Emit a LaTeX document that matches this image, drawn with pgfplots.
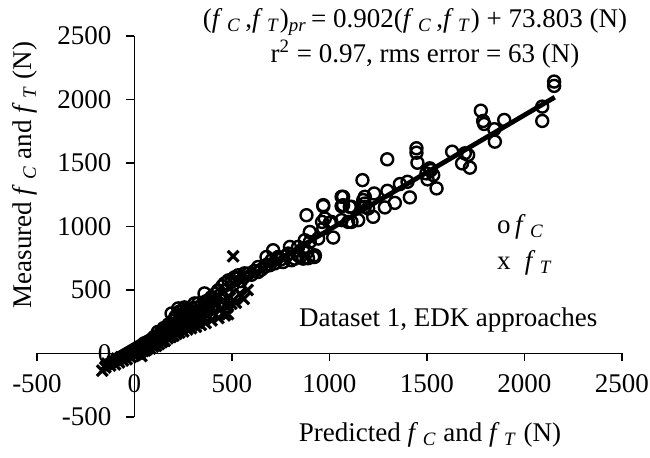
\documentclass[border=0pt]{standalone}
\usepackage{pgfplots}
\pgfplotsset{compat=1.18}
\usepackage{fontspec}
\setmainfont{Liberation Serif}
\newcommand\fC{\textit{f}\,\textsubscript{\textit{C}}}
\newcommand\fT{\textit{f}\,\textsubscript{\textit{T}}}
\begin{document}
\begin{tikzpicture}[font=\fontsize{13.5}{16}\selectfont]
\useasboundingbox (-18.5pt,-20.5pt) rectangle (306.5pt,208.5pt);
\begin{axis}[
  at={(0,0)}, anchor=south west, scale only axis,
  width=292.5pt, height=190.5pt,
  xmin=-500, xmax=2500, ymin=-500, ymax=2500,
  axis lines=middle,
  axis line style={line width=0.8pt,-},
  xtick={-500,0,500,1000,1500,2000,2500},
  ytick={-500,0,500,1000,1500,2000,2500},
  xticklabels={-500,0,500,1000,1500,2000,2500},
  yticklabels={-500,0,500,1000,1500,2000,2500},
  tick align=outside, major tick length=4pt,
  tick style={line width=0.8pt,black},
  hide obscured x ticks=false, hide obscured y ticks=false,
  xticklabel style={yshift=-3pt},
  yticklabel style={xshift=-4pt},
  clip=false,
]
% fitted line
\addplot[black, line width=2.4pt] coordinates {(-170,-79.5) (2155,2017.6)};
% f_C (circles)
\addplot[only marks, mark=o, mark size=3pt, line width=1.2pt, black] coordinates {
(0,20)(30,40)(50,80)(70,90)(100,130)(120,170)(140,150)(150,200)(160,185)(175,230)
(185,215)(190,315)(200,260)(210,290)(215,240)(224,355)(230,330)(240,300)(250,345)
(256,363)(260,320)(270,350)(280,300)(292,355)(300,330)(308,394)(315,360)(326,394)
(335,340)(345,380)(359,473)(365,410)(378,418)(385,390)(395,444)(405,430)(415,470)
(429,497)(440,460)(450,530)(462,552)(470,500)(482,576)(497,576)(505,540)(513,600)
(525,590)(532,616)(545,570)(560,600)(564,631)(583,629)(600,620)(615,650)(634,642)
(650,660)(667,681)(680,700)(703,734)(720,710)(737,760)(750,740)(780,770)(805,734)
(839,773)(850,760)(890,750)(923,760)
(634,681)(694,695)(711,813)(677,760)(728,747)(822,747)(916,760)(762,720)
(797,839)(788,787)(839,839)(865,826)(899,878)(942,905)(968,984)(1019,913)(899,957)
(925,773)(887,800)(865,747)(873,892)
(1002,1029)(962,1036)(1113,1036)(1147,1050)(976,1063)(1010,1036)(1062,1050)(1096,1036)
(968,1160)(882,1089)(968,1168)(1062,1160)(1104,1155)(1070,1234)(1062,1234)(1070,1168)
(1113,1155)(1169,1365)(1173,1208)(1181,1155)(1181,1234)(1181,1181)(1198,1142)
(1224,1076)(1229,1260)(1284,1150)(1297,1281)(1335,1186)(1361,1334)(1400,1352)(1412,1229)
(1296,1529)(1446,1616)(1446,1581)(1451,1502)(1514,1458)(1503,1371)(1532,1405)
(1520,1444)(1497,1418)(1549,1300)(1629,1589)(1694,1576)(1711,1563)(1680,1497)(1720,1463)
(1776,1912)(1788,1831)(1793,1807)(1896,1839)(1845,1766)(1848,1668)
(2091,1944)(2091,1831)(2152,2141)(2152,2107)
};
% f_T (x marks)
\addplot[only marks, mark=x, mark size=3.8pt, line width=1.6pt, black] coordinates {
(-165,-135)(-150,-110)(-140,-80)(-125,-95)(-110,-60)(-100,-85)(-90,-40)(-80,-70)
(-70,-30)(-60,-55)(-50,-20)(-40,-45)(-30,-10)(-20,-30)(-10,5)(0,-15)(5,20)(10,-5)
(15,30)(20,0)(25,40)(30,10)(35,-20)(40,45)(45,20)(50,60)(55,25)(60,75)(65,35)
(70,50)(75,90)(80,40)(85,70)(90,105)(95,55)(100,80)(105,120)(110,60)(115,95)
(120,140)(125,75)(130,110)(135,160)(140,90)(145,130)(150,170)(155,100)(160,145)
(165,195)(170,120)(175,160)(180,210)(185,130)(190,175)(195,230)(200,140)(205,190)
(210,250)(215,155)(220,200)(225,270)(230,165)(240,215)(245,280)(250,175)(260,230)
(265,300)(270,190)(280,245)(285,320)(290,200)(300,255)(310,330)(315,210)(325,270)
(335,345)(340,225)(350,285)(360,360)(365,240)(375,300)(385,380)(395,260)(405,320)
(420,400)(430,280)(440,345)(455,420)(463,300)(475,365)(480,310)(490,440)(497,392)
(506,766)(520,400)(540,470)(560,430)(580,500)
};
\end{axis}
% texts (positions in pt relative to lower-left of plot box)
\node at (189pt,197.5pt) {(\fC\,,\fT)\textsubscript{\textit{pr}}\,= 0.902(\fC\,,\fT) + 73.803 (N)};
\node at (194pt,181.5pt) {r\textsuperscript{2} = 0.97, rms error = 63 (N)};
\node[anchor=west] at (226.5pt,95pt) {o\,\fC};
\node[anchor=west] at (226.5pt,77pt) {x\; \fT};
\node[anchor=west] at (127.5pt,48.5pt) {Dataset 1, EDK approaches};
\node at (196.5pt,-9pt) {Predicted \fC{} and \fT{} (N)};
\node[rotate=90] at (-6pt,121pt) {Measured \fC{} and \fT{} (N)};
\end{tikzpicture}
\end{document}
